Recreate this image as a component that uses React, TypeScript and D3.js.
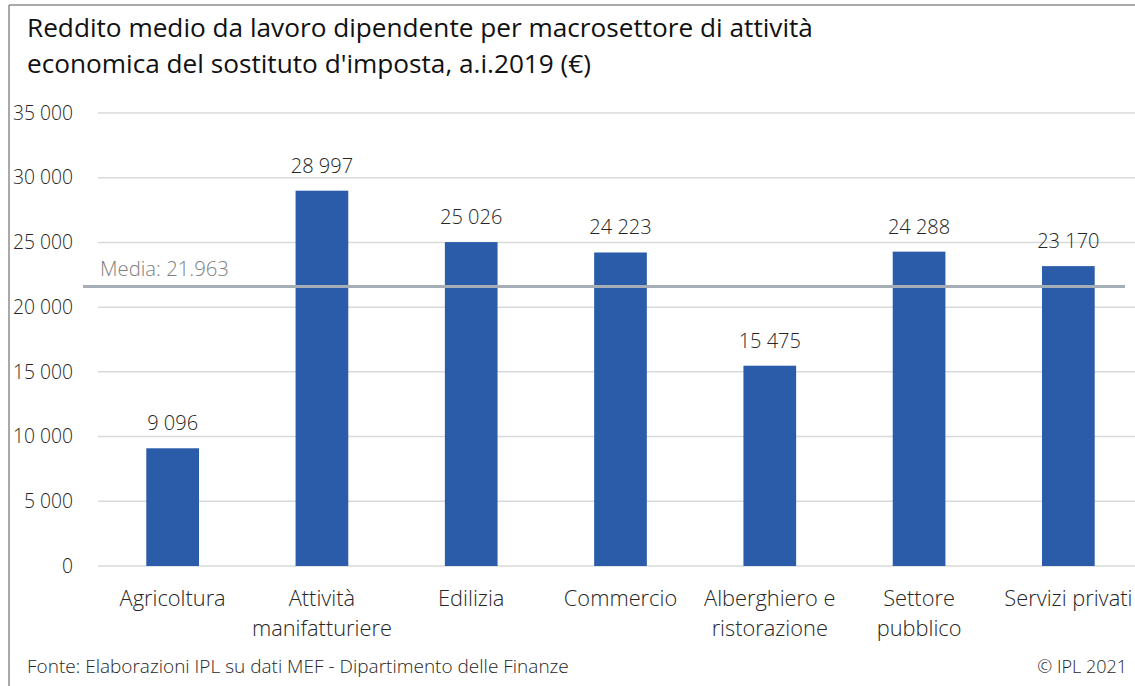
import React from "react";
import * as d3 from "d3";

const categories: string[][] = [
  ["Agricoltura"],
  ["Attività", "manifatturiere"],
  ["Edilizia"],
  ["Commercio"],
  ["Alberghiero e", "ristorazione"],
  ["Settore", "pubblico"],
  ["Servizi privati"],
];
const values: number[] = [9096, 28997, 25026, 24223, 15475, 24288, 23170];
const yTicks: number[] = [0, 5000, 10000, 15000, 20000, 25000, 30000, 35000];
const meanLabel = "Media: 21.963";
const meanLineValue = 21600; // level at which the mean line is drawn in the picture
const titleLines = [
  "Reddito medio da lavoro dipendente per macrosettore di attività",
  "economica del sostituto d'imposta, a.i.2019 (€)",
];
const sourceText = "Fonte: Elaborazioni IPL su dati MEF - Dipartimento delle Finanze";
const copyrightText = "© IPL 2021";

const W = 1135;
const H = 686;
const FONT = "'Open Sans', 'Noto Sans', sans-serif";

const fmt = (v: number) => {
  const s = Math.round(v).toString();
  return s.replace(/\B(?=(\d{3})+(?!\d))/g, " ");
};

export default function App() {
  const x = d3
    .scaleBand<number>()
    .domain(values.map((_, i) => i))
    .range([98, 1143])
    .paddingInner(0.647)
    .paddingOuter(0.3235);
  const y = d3.scaleLinear().domain([0, 35000]).range([566, 113]);
  const barColor = "#2b5ca9";
  const gridColor = "#d9d9d9";
  const textColor = "#262626";

  return (
    <svg
      width={W}
      height={H}
      style={{ position: "absolute", left: 0, top: 0, background: "#fff" }}
      fontFamily={FONT}
    >
      {/* frame */}
      <line x1={9} y1={5} x2={W} y2={5} stroke="#8c8c8c" strokeWidth={1.5} />
      <line x1={9} y1={5} x2={9} y2={H} stroke="#8c8c8c" strokeWidth={1.5} />

      {/* title */}
      {titleLines.map((t, i) => (
        <text key={i} x={27} y={37 + i * 36} fontSize={26.2} fill="#111" fontWeight={400}>
          {t}
        </text>
      ))}

      {/* gridlines */}
      {yTicks.map((t) => (
        <line
          key={t}
          x1={98}
          x2={1143}
          y1={y(t)}
          y2={y(t)}
          stroke={gridColor}
          strokeWidth={1.5}
        />
      ))}
      {/* y tick labels */}
      {yTicks.map((t) => (
        <text
          key={"l" + t}
          x={73}
          y={y(t)}
          dy="0.35em"
          textAnchor="end"
          fontSize={19.3}
          fill={textColor}
          fontWeight={300}
        >
          {fmt(t)}
        </text>
      ))}

      {/* bars */}
      {values.map((v, i) => (
        <rect
          key={i}
          x={x(i)!}
          y={y(v)}
          width={x.bandwidth()}
          height={y(0) - y(v)}
          fill={barColor}
        />
      ))}

      {/* data labels */}
      {values.map((v, i) => (
        <text
          key={"d" + i}
          x={x(i)! + x.bandwidth() / 2}
          y={y(v) - 18}
          textAnchor="middle"
          fontSize={20}
          fill={textColor}
          fontWeight={300}
        >
          {fmt(v)}
        </text>
      ))}

      {/* mean line */}
      <line
        x1={83}
        x2={1125}
        y1={y(meanLineValue)}
        y2={y(meanLineValue)}
        stroke="#a5adb6"
        strokeWidth={3}
      />
      <text x={100} y={y(meanLineValue) - 10} fontSize={20.3} fill="#7f7f7f" fontWeight={300}>
        {meanLabel}
      </text>

      {/* category labels */}
      {categories.map((lines, i) => (
        <text
          key={"c" + i}
          x={x(i)! + x.bandwidth() / 2}
          textAnchor="middle"
          fontSize={21.8}
          fill={textColor}
          fontWeight={300}
        >
          {lines.map((ln, j) => (
            <tspan key={j} x={x(i)! + x.bandwidth() / 2} y={606 + j * 30}>
              {ln}
            </tspan>
          ))}
        </text>
      ))}

      {/* footer */}
      <text x={27} y={673} fontSize={19} fill={textColor} fontWeight={300}>
        {sourceText}
      </text>
      <text x={1127} y={673} fontSize={18} fill={textColor} textAnchor="end" fontWeight={300}>
        {copyrightText}
      </text>
    </svg>
  );
}
